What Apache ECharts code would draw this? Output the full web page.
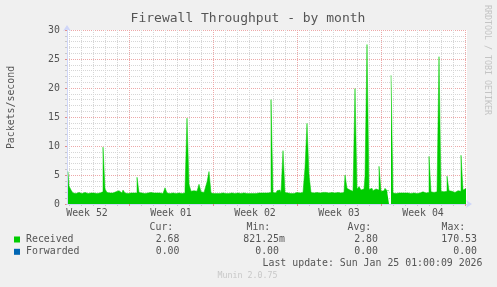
<!DOCTYPE html>
<html><head><meta charset="utf-8">
<script src="https://cdn.jsdelivr.net/npm/echarts@6/dist/echarts.min.js"></script>
<style>html,body{margin:0;padding:0;background:#F0F0F0}#c{width:497px;height:287px}</style>
</head><body><div id="c"></div>
<script>
const chartTitle = 'Firewall Throughput - by month';
const yAxisTitle = 'Packets/second';
const sideText = 'RRDTOOL / TOBI OETIKER';
const footerText = 'Munin 2.0.75';
const lastUpdate = 'Last update: Sun Jan 25 01:00:09 2026';
// x values: hours since Sun Dec 21 2025 00:00
const xRange = [44, 844];
const weekLabels = ['Week 52', 'Week 01', 'Week 02', 'Week 03', 'Week 04'];
const weekLabelHours = [84, 252, 420, 588, 756];
const weekStartHours = [168, 336, 504, 672, 840];
const seriesNames = ['Received', 'Forwarded'];
const seriesColors = ['#00CC00', '#0066B3'];
const statHeaders = ['Cur:', 'Min:', 'Avg:', 'Max:'];
const receivedStats = ['2.68', '821.25m', '2.80', '170.53'];
const forwardedStats = ['0.00', '0.00', '0.00', '0.00'];
const sampleStartHour = 46;
const sampleStepHours = 4;
const received = [
  5.6, 3.1, 2.4, 1.9, 1.8, 2.0, 1.9, 1.8, 2.0, 1.9,
  1.8, 1.9, 2.0, 1.9, 1.8, 1.8, 1.9, 2.1, 9.8, 2.6,
  2.0, 1.9, 1.9, 2.0, 2.1, 2.3, 2.0, 1.9, 2.4, 1.9,
  1.8, 1.9, 2.0, 1.9, 1.9, 4.6, 2.0, 1.9, 1.8, 1.9,
  1.9, 2.0, 1.8, 1.9, 1.9, 2.0, 1.9, 1.8, 2.1, 2.8,
  1.9, 1.8, 1.9, 2.0, 1.8, 1.9, 1.9, 1.8, 1.9, 2.6,
  14.8, 3.4, 2.2, 2.3, 2.2, 2.4, 3.4, 2.1, 2.0, 2.6,
  3.8, 5.6, 1.9, 1.8, 1.8, 1.9, 1.8, 1.9, 2.2, 1.8,
  1.8, 1.8, 1.9, 1.8, 1.8, 1.9, 1.8, 1.8, 1.9, 1.8,
  1.9, 1.8, 1.8, 1.9, 1.8, 1.9, 1.8, 1.9, 1.9, 1.8,
  1.9, 2.0, 18.0, 2.0, 1.9, 2.3, 2.4, 2.0, 9.2, 2.0,
  1.9, 1.8, 1.9, 1.8, 2.0, 1.9, 1.9, 2.0, 2.1, 6.3,
  13.9, 5.0, 2.0, 1.9, 2.0, 2.0, 1.9, 2.0, 1.9, 2.0,
  1.9, 2.0, 2.0, 1.9, 1.9, 2.0, 1.9, 2.2, 2.0, 5.0,
  2.7, 2.4, 2.2, 2.3, 19.9, 2.6, 3.0, 2.4, 2.6, 4.8,
  27.5, 2.5, 2.7, 2.3, 2.6, 2.4, 6.5, 2.2, 2.3, 2.7,
  2.3, null, 22.2, 1.9, 1.8, 1.9, 1.8, 1.9, 1.9, 1.8,
  1.9, 1.8, 1.9, 1.9, 1.8, 2.0, 1.9, 2.1, 2.0, 1.9,
  2.0, 8.2, 2.1, 2.0, 2.1, 2.0, 25.4, 2.2, 2.1, 2.2,
  4.8, 2.3, 2.2, 2.0, 2.2, 2.3, 2.2, 8.4, 2.4, 2.68
];

const MONO = '"DejaVu Sans Mono", monospace';
const FONT_COLOR = '#555555';
const receivedData = received.map((v, i) => [sampleStartHour + i * sampleStepHours, v]);
// daily minor grid positions (midnights inside the range)
const dayStartHours = [];
for (let h = 48; h <= xRange[1]; h += 24) { if (weekStartHours.indexOf(h) < 0) dayStartHours.push(h); }

function txt(text, x, y, opts) {
  opts = opts || {};
  return {
    type: 'text', x: x, y: y, rotation: opts.rot || 0, silent: true,
    style: {
      text: text,
      font: (opts.size || 9.9) + 'px ' + MONO,
      fill: opts.color || FONT_COLOR,
      align: opts.align || 'left', textAlign: opts.align || 'left',
      verticalAlign: 'middle', textVerticalAlign: 'middle'
    }
  };
}

const headerX = [149.5, 246.5, 347.5, 441.5];
const valueRight = [179.5, 279, 378, 477];
const charW = 5.96;
const graphics = [
  txt(chartTitle, 248, 18.7, {size: 13, align: 'center'}),
  txt(yAxisTitle, 11.7, 107.5, {rot: Math.PI / 2, align: 'center'}),
  txt(sideText, 487, 60, {rot: -Math.PI / 2, align: 'center', size: 8.3, color: '#c4c4c4'}),
  txt(footerText, 247.5, 276, {align: 'center', size: 8.3, color: '#c8c8c8'}),
  txt(lastUpdate, 482.5, 263.3, {align: 'right'}),
  {type: 'rect', shape: {x: 14, y: 236.5, width: 6, height: 6}, style: {fill: seriesColors[0]}},
  {type: 'rect', shape: {x: 14, y: 248.8, width: 6, height: 6}, style: {fill: seriesColors[1]}},
  txt(seriesNames[0], 26, 239.3),
  txt(seriesNames[1], 26, 251.7)
];
statHeaders.forEach((h, i) => graphics.push(txt(h, headerX[i], 227.7)));
[receivedStats, forwardedStats].forEach((row, r) => {
  row.forEach((v, i) => {
    const shift = /[a-zA-Z]$/.test(v) ? charW : 0;
    graphics.push(txt(v, valueRight[i] + shift, r === 0 ? 239.3 : 251.7, {align: 'right'}));
  });
});

const chart = echarts.init(document.getElementById('c'), null, {renderer: 'canvas'});
const axisLineStyle = {color: '#CFD6F8', width: 1};
const majorGrid = {color: '#EDA8A8', width: 1, type: [1, 1]};
const minorGrid = {color: '#D6D6D6', width: 1, type: [1, 1]};
chart.setOption({
  animation: false,
  backgroundColor: '#F0F0F0',
  grid: {left: 67, right: 30, top: 30, height: 174, show: true, backgroundColor: '#FFFFFF', borderWidth: 0},
  xAxis: [
    {
      type: 'value', min: xRange[0], max: xRange[1], position: 'bottom', z: 0,
      axisLine: {show: false},
      axisTick: {show: true, length: 2, customValues: dayStartHours, lineStyle: {color: '#C8C8C8'}},
      axisLabel: {show: false},
      splitLine: {show: true, lineStyle: minorGrid}
    },
    {
      type: 'value', min: xRange[0], max: xRange[1], position: 'bottom', z: 1,
      axisLine: {show: true, lineStyle: axisLineStyle, symbol: ['none', 'arrow'], symbolSize: [6, 6], symbolOffset: [0, 5]},
      axisTick: {show: true, length: 2, customValues: weekStartHours, lineStyle: {color: '#E08A8A'}},
      axisLabel: {
        customValues: weekLabelHours, margin: 4,
        formatter: v => weekLabels[weekLabelHours.indexOf(v)],
        fontFamily: MONO, fontSize: 9.9, color: FONT_COLOR
      },
      splitLine: {show: true, lineStyle: majorGrid}
    }
  ],
  yAxis: {
    type: 'value', min: 0, max: 30, interval: 5,
    axisLine: {show: true, lineStyle: axisLineStyle, symbol: ['none', 'arrow'], symbolSize: [6, 6], symbolOffset: [0, 5]},
    axisTick: {show: true, length: 2, lineStyle: {color: '#E08A8A'}},
    minorTick: {show: true, splitNumber: 5, length: 2, lineStyle: {color: '#C8C8C8'}},
    axisLabel: {margin: 7, fontFamily: MONO, fontSize: 9.9, color: FONT_COLOR},
    splitLine: {show: true, lineStyle: majorGrid},
    minorSplitLine: {show: true, lineStyle: minorGrid}
  },
  series: [{
    name: seriesNames[0], type: 'line', xAxisIndex: 1, data: receivedData,
    step: 'middle', symbol: 'none', showSymbol: false, connectNulls: false, z: 3,
    lineStyle: {width: 0.5, color: seriesColors[0]},
    areaStyle: {color: seriesColors[0], opacity: 1}
  }],
  graphic: graphics
});
</script></body></html>
